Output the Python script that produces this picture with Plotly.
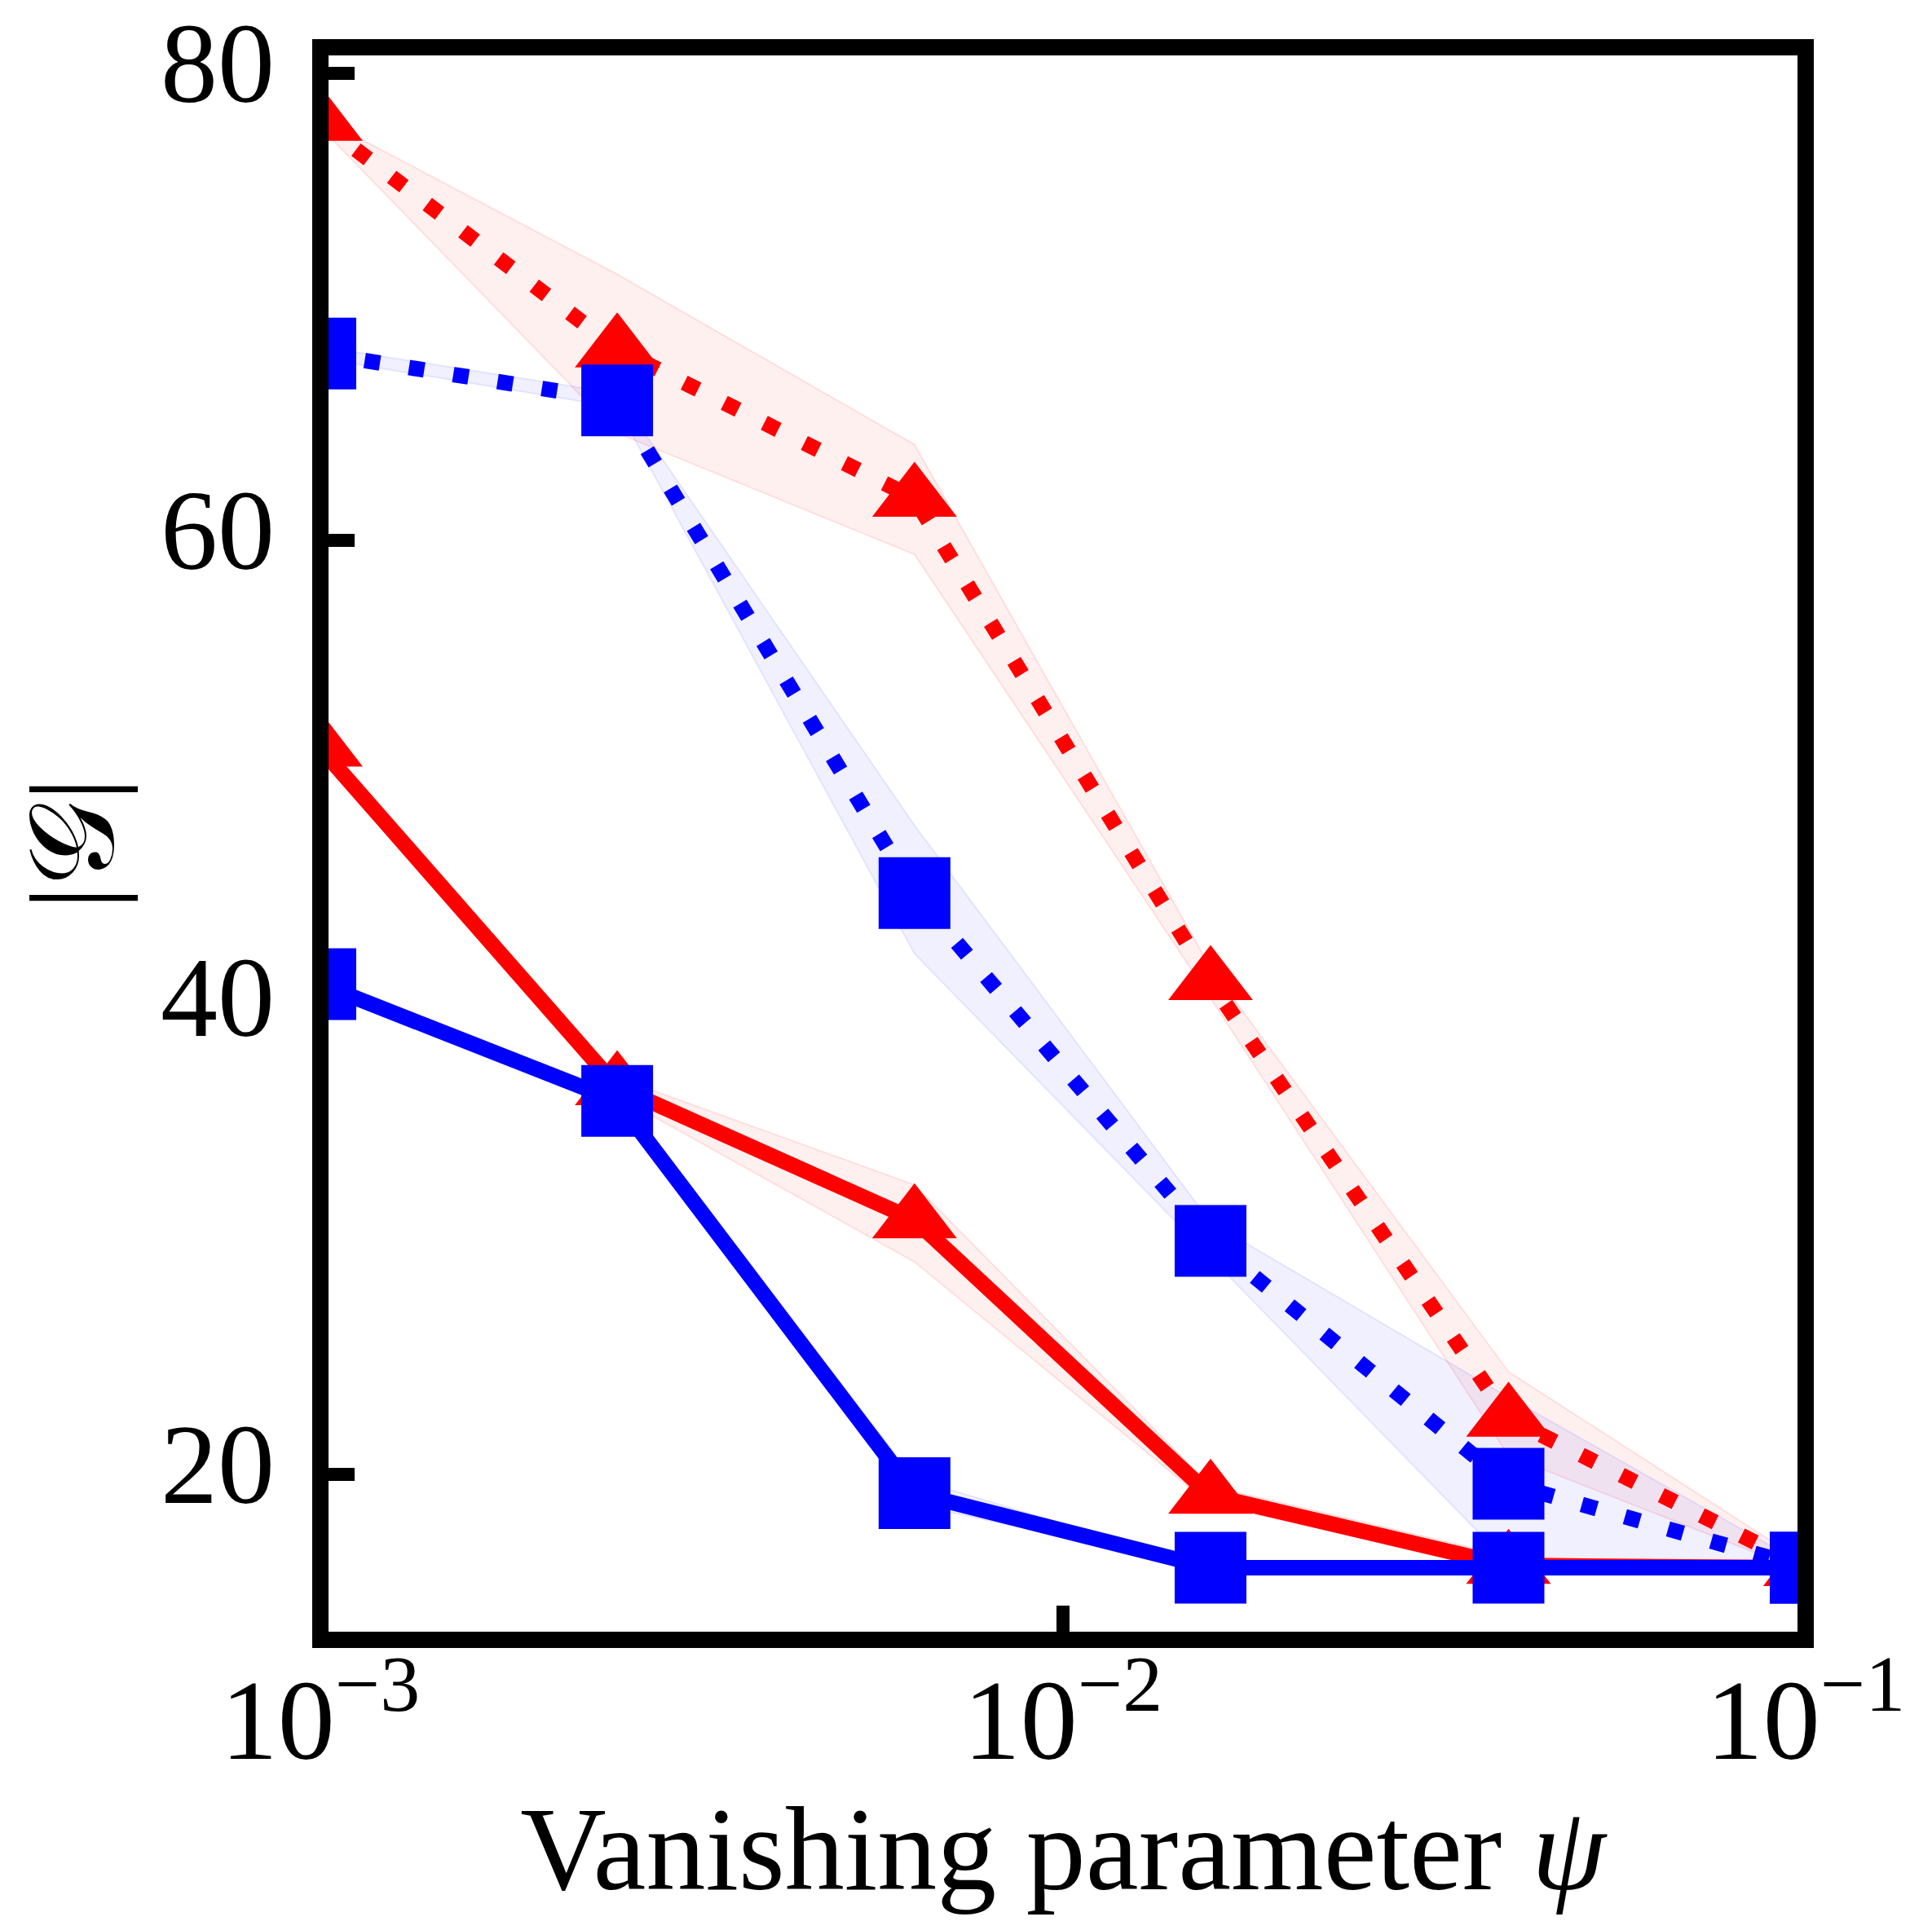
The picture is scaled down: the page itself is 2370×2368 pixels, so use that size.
import plotly.graph_objects as go

# vanishing parameter (log spaced)
psi = [0.001, 0.00251, 0.00631, 0.0158, 0.0398, 0.1]

# red, dotted (triangles)
red_dot = [77.9, 68.2, 61.8, 41.1, 22.4, 16.0]
red_dot_lo = [77.7, 64.6, 59.4, 40.4, 20.8, 15.8]
red_dot_hi = [78.1, 71.4, 64.1, 41.7, 24.4, 16.2]

# blue, dotted (squares)
blue_dot = [68.0, 66.0, 44.9, 30.0, 19.6, 16.0]
blue_dot_lo = [67.8, 65.7, 42.3, 29.3, 16.2, 15.9]
blue_dot_hi = [68.3, 66.3, 47.8, 30.8, 23.3, 16.1]

# red, solid (triangles)
red_sol = [51.1, 36.6, 30.9, 19.1, 16.1, 16.0]
red_sol_lo = [50.8, 36.2, 29.1, 18.7, 16.0, 16.0]
red_sol_hi = [51.4, 37.0, 32.4, 19.5, 16.5, 16.0]

# blue, solid (squares)
blue_sol = [41.0, 36.0, 19.2, 16.0, 16.0, 16.0]
blue_sol_lo = [40.8, 35.8, 18.7, 16.0, 16.0, 16.0]
blue_sol_hi = [41.2, 36.3, 19.8, 16.0, 16.0, 16.0]

xtick_vals = [0.001, 0.01, 0.1]
xtick_text = ["10<sup>\u22123</sup>", "10<sup>\u22122</sup>", "10<sup>\u22121</sup>"]
ytick_vals = [20, 40, 60, 80]

FONT = "Liberation Serif, DejaVu Serif, serif"
RED = "#ff0000"
BLUE = "#0000ff"

fig = go.Figure()

bands = [
    (red_dot_lo, red_dot_hi, "rgba(255,0,0,0.06)", "rgba(255,0,0,0.10)"),
    (red_sol_lo, red_sol_hi, "rgba(255,0,0,0.06)", "rgba(255,0,0,0.10)"),
    (blue_dot_lo, blue_dot_hi, "rgba(0,0,255,0.06)", "rgba(0,0,255,0.08)"),
    (blue_sol_lo, blue_sol_hi, "rgba(0,0,255,0.06)", "rgba(0,0,255,0.08)"),
]
for lo, hi, fc, lc in bands:
    fig.add_trace(go.Scatter(x=psi, y=lo, mode="lines",
                             line=dict(color=lc, width=2), showlegend=False))
    fig.add_trace(go.Scatter(x=psi, y=hi, mode="lines", fill="tonexty",
                             fillcolor=fc, line=dict(color=lc, width=2),
                             showlegend=False))

series = [
    (red_sol, RED, "solid", "triangle-up", 90),
    (red_dot, RED, "19px,36px", "triangle-up", 90),
    (blue_sol, BLUE, "solid", "square", 88),
    (blue_dot, BLUE, "19px,36px", "square", 88),
]
for y, col, dash, sym, sz in series:
    fig.add_trace(go.Scatter(
        x=psi, y=y, mode="lines+markers",
        line=dict(color=col, width=19, dash=dash),
        marker=dict(symbol=sym, size=sz, color=col, line=dict(width=0)),
        showlegend=False))

# thick black frame drawn on the spine centres
fig.add_shape(type="rect", xref="paper", yref="paper", x0=0, x1=1, y0=0, y1=1,
              line=dict(color="black", width=20), layer="above")

fig.update_layout(
    width=2370, height=2368,
    margin=dict(l=385, r=163, t=50, b=364),
    plot_bgcolor="white", paper_bgcolor="white",
    font=dict(family=FONT, color="black"),
    showlegend=False,
)
fig.update_xaxes(
    type="log", range=[-3, -1],
    tickvals=xtick_vals, ticktext=xtick_text,
    ticks="inside", ticklen=42, tickwidth=16, tickcolor="black",
    tickfont=dict(size=140, family=FONT), ticklabelstandoff=5,
    ticklabeloverflow="allow",
    showgrid=False, zeroline=False, showline=False, automargin=False,
    layer="below traces",
    title=dict(text="Vanishing parameter <i>\u03c8</i>",
               font=dict(size=146, family=FONT), standoff=8),
)
fig.update_yaxes(
    range=[12.915, 81.12],
    tickvals=ytick_vals,
    ticks="inside", ticklen=42, tickwidth=16, tickcolor="black",
    tickfont=dict(size=140, family=FONT), ticklabelstandoff=55,
    ticklabelshift=-14, ticklabeloverflow="allow",
    showgrid=False, zeroline=False, showline=False, automargin=False,
    layer="below traces",
    title=dict(text="|\U0001D4A2|", font=dict(size=146, family=FONT), standoff=12),
)

fig.write_html("out.html")
